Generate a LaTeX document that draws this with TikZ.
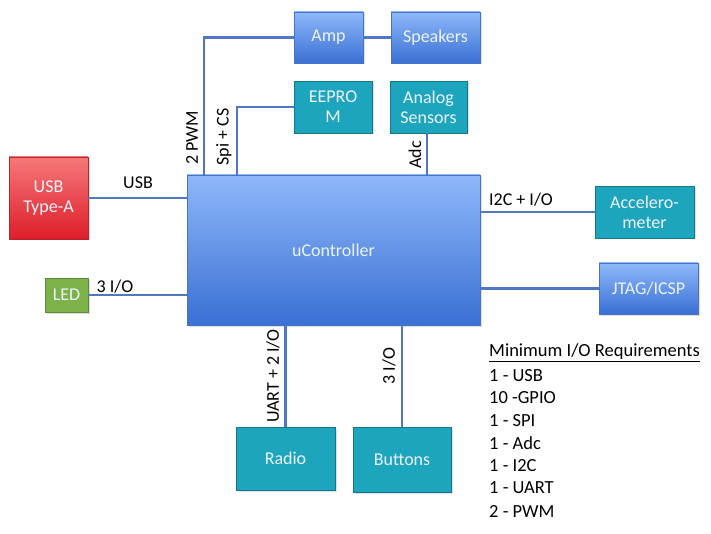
\documentclass[tikz,border=0pt]{standalone}
\usepackage{fontspec}
\setmainfont{Carlito}
\usetikzlibrary{shadows}
\definecolor{lineblue}{RGB}{78,120,195}
\definecolor{bluetop}{RGB}{142,184,250}
\definecolor{bluebot}{RGB}{58,112,212}
\definecolor{blueedge}{RGB}{70,115,200}
\definecolor{tealfill}{RGB}{30,165,190}
\definecolor{tealedge}{RGB}{20,120,140}
\definecolor{redtop}{RGB}{245,120,120}
\definecolor{redbot}{RGB}{222,30,42}
\definecolor{rededge}{RGB}{180,40,45}
\definecolor{greenfill}{RGB}{125,178,74}
\definecolor{greenedge}{RGB}{90,138,53}
\definecolor{boxtext}{RGB}{235,244,250}
\begin{document}
\begin{tikzpicture}[x=1pt,y=-1pt,
  box/.style={draw, line width=0.9pt, inner sep=0pt, align=center,
    font=\fontsize{18}{20}\selectfont, text=boxtext,
    drop shadow={opacity=0.25, shadow xshift=1.5pt, shadow yshift=-1.5pt}},
  bluebox/.style={box, top color=bluetop, bottom color=bluebot, draw=blueedge},
  tealbox/.style={box, fill=tealfill, draw=tealedge},
  redbox/.style={box, top color=redtop, bottom color=redbot, draw=rededge},
  greenbox/.style={box, fill=greenfill, draw=greenedge},
  wire/.style={draw=lineblue, line width=2.2pt},
  lbl/.style={font=\fontsize{18}{20}\selectfont, inner sep=0pt, text=black},
  req/.style={font=\fontsize{18.5}{20}\selectfont, inner sep=0pt, anchor=west, text=black}
]
\useasboundingbox (0,0) rectangle (711,534);

% nodes
\node[bluebox, minimum width=293pt, minimum height=150pt] (uc) at (333.5,250) {uController};
\node[bluebox, minimum width=69pt, minimum height=51pt] (amp) at (328.5,37.5) {Amp};
\node[bluebox, minimum width=89pt, minimum height=51pt] (spk) at (435.5,37.5) {Speakers};
\node[tealbox, minimum width=78pt, minimum height=52pt] (eep) at (333,107) {EEPRO\\M};
\node[tealbox, minimum width=77pt, minimum height=52pt] (ana) at (428.5,107) {Analog\\Sensors};
\node[redbox, minimum width=79pt, minimum height=82pt] (usb) at (48.5,198) {USB\\Type-A};
\node[greenbox, minimum width=43pt, minimum height=34pt] (led) at (66.5,295) {LED};
\node[tealbox, minimum width=99pt, minimum height=52pt] (acc) at (644.5,212) {Accelero-\\meter};
\node[bluebox, minimum width=99pt, minimum height=51pt] (jtag) at (648.5,288.5) {JTAG/ICSP};
\node[tealbox, minimum width=99pt, minimum height=63pt] (radio) at (285.5,458.5) {Radio};
\node[tealbox, minimum width=98pt, minimum height=65pt] (btn) at (402,459.5) {Buttons};

% connector x positions
\coordinate (pwmx) at (204,0);
\coordinate (spix) at (237,0);
\coordinate (adcx) at (427,0);

% connectors
\draw[wire] (pwmx |- uc.north) |- (amp.west);
\draw[wire] (amp.east) -- (spk.west);
\draw[wire] (spix |- uc.north) |- (eep.west);
\draw[wire] (adcx |- ana.south) -- (adcx |- uc.north);
\draw[wire] (usb.east) -- (usb.east -| uc.west);
\draw[wire] (led.east) -- (led.east -| uc.west);
\draw[wire] (acc.west -| uc.east) -- (acc.west);
\draw[wire] (jtag.west -| uc.east) -- (jtag.west);
\draw[wire] (radio.north |- uc.south) -- (radio.north);
\draw[wire] (btn.north |- uc.south) -- (btn.north);

% labels
\node[lbl, rotate=90] (lpwm) at (192,138) {2 PWM};
\node[lbl, rotate=90] (lspi) at (224,137) {Spi + CS};
\node[lbl, rotate=90] (ladc) at (415,155) {Adc};
\node[lbl, rotate=90] (luart) at (273,376) {UART + 2 I/O};
\node[lbl, rotate=90] (lbtn) at (389,366) {3 I/O};
\node[lbl] (lusb) at (138,183) {USB};
\node[lbl] (lled) at (115,287) {3 I/O};
\node[lbl] (li2c) at (521,200) {I2C + I/O};

% requirements
\node[req] (r0) at (489,353) {\underline{Minimum I/O Requirements}};
\node[req] (r1) at (489,376) {1 - USB};
\node[req] (r2) at (489,398) {10 -GPIO};
\node[req] (r3) at (489,421) {1 - SPI};
\node[req] (r4) at (489,443) {1 - Adc};
\node[req] (r5) at (489,466) {1 - I2C};
\node[req] (r6) at (489,488) {1 - UART};
\node[req] (r7) at (489,511) {2 - PWM};
\end{tikzpicture}
\end{document}
